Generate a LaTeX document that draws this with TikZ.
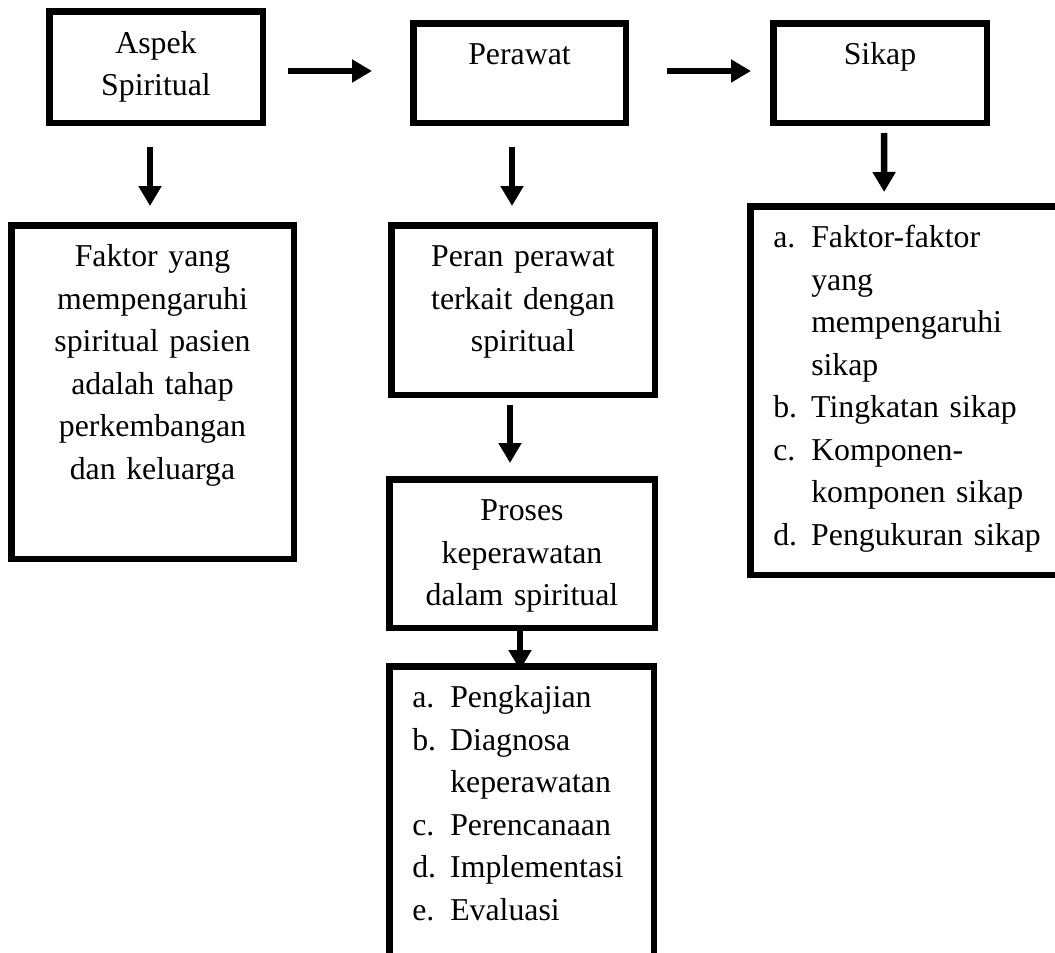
\documentclass[tikz,border=0pt]{standalone}
\usepackage{fontspec}
\setmainfont{Liberation Serif}
\usepackage{tikz}
\usetikzlibrary{arrows.meta,positioning,calc}

\newcommand{\itm}[2]{\makebox[38pt][l]{#1}#2}
\newcommand{\itmcont}[1]{\hspace*{38pt}#1}

\begin{document}
\begin{tikzpicture}[
    x=1pt, y=-1pt,
    box/.style={draw=black, line width=6.5pt, anchor=north west, font=\fontsize{31.8pt}{42.5pt}\selectfont, inner xsep=23pt, inner ysep=19.5pt, text height=22pt, align=center},
    listbox/.style={box, align=left},
    arr/.style={-{Triangle[length=20pt, width=22pt]}, line width=6.5pt}
]
    \clip (0,0) rectangle (1055,953);
    \fill[white] (0,0) rectangle (1055,953);

    % Top row
    \node[box, text width=167.5pt, minimum height=111.5pt] (asp) at (46,8) {Aspek\\Spiritual};
    \node[box, text width=166.5pt, text depth=38.5pt] (per) at (410,20) {Perawat};
    \node[box, text width=167.5pt, text depth=38.5pt] (sik) at (770,20) {Sikap};

    % Second row
    \node[box, text width=236.5pt, text depth=272.5pt] (fak) at (8,222) {Faktor yang\\mempengaruhi\\spiritual pasien\\adalah tahap\\perkembangan\\dan keluarga};
    \node[box, text width=217.5pt, text depth=108.5pt] (prn) at (388,222) {Peran perawat\\terkait dengan\\spiritual};
    \node[listbox, text width=269pt, text depth=307.5pt] (skl) at (747,203) {\itm{a.}{Faktor-faktor}\\\itmcont{yang}\\\itmcont{mempengaruhi}\\\itmcont{sikap}\\\itm{b.}{Tingkatan sikap}\\\itm{c.}{Komponen-}\\\itmcont{komponen sikap}\\\itm{d.}{Pengukuran sikap}};

    % Middle column, lower part
    \node[box, text width=219.5pt, text depth=87.5pt] (pro) at (386,476) {Proses\\keperawatan\\dalam spiritual};
    \node[listbox, text width=218.5pt, text depth=272.75pt] (lst) at (386,663) {\itm{a.}{Pengkajian}\\\itm{b.}{Diagnosa}\\\itmcont{keperawatan}\\\itm{c.}{Perencanaan}\\\itm{d.}{Implementasi}\\\itm{e.}{Evaluasi}};

    % Arrows
    \draw[arr] ([xshift=22pt,yshift=-4pt]asp.east) -- ([xshift=-38pt,yshift=2pt]per.west);
    \draw[arr] ([xshift=38pt,yshift=2pt]per.east) -- ([xshift=-19pt,yshift=2pt]sik.west);
    \draw[arr] ([xshift=-6pt,yshift=-21pt]asp.south) -- ([xshift=-2.5pt,yshift=16pt]fak.north);
    \draw[arr] ([xshift=-7.5pt,yshift=-21pt]per.south) -- ([xshift=-11pt,yshift=16pt]prn.north);
    \draw[arr] ([xshift=4pt,yshift=-7pt]sik.south) -- ([xshift=-23.6pt,yshift=11pt]skl.north);
    \draw[arr] ([xshift=-13pt,yshift=-7pt]prn.south) -- ([xshift=-12pt,yshift=13pt]pro.north);
    \draw[arr] ([xshift=-2pt]pro.south) -- ([xshift=-1.5pt,yshift=-7pt]lst.north);
\end{tikzpicture}
\end{document}
